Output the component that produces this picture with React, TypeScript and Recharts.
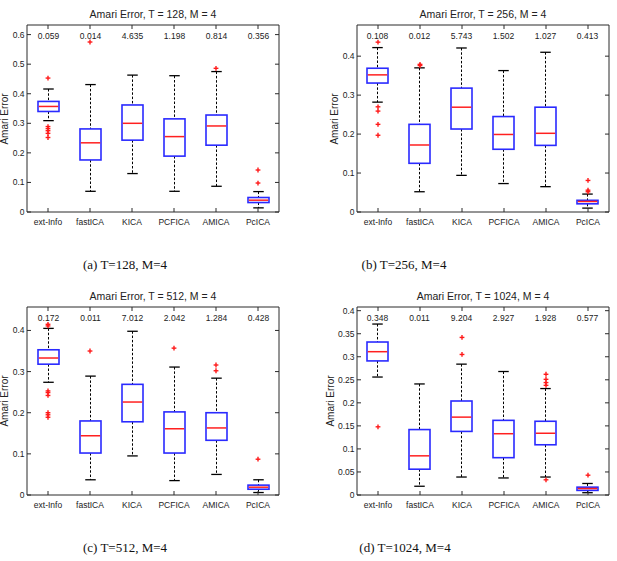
import React from 'react';
import { ComposedChart, Bar, Scatter, XAxis, YAxis } from 'recharts';

// Separation methods compared in every panel
const methods = ['ext-Info', 'fastICA', 'KICA', 'PCFICA', 'AMICA', 'PcICA'];

// T = 128
const low128 = [0.309, 0.07, 0.13, 0.07, 0.087, 0.014];
const q1_128 = [0.34, 0.176, 0.243, 0.189, 0.226, 0.032];
const med128 = [0.357, 0.234, 0.3, 0.255, 0.291, 0.04];
const q3_128 = [0.374, 0.281, 0.362, 0.315, 0.328, 0.049];
const high128 = [0.416, 0.431, 0.463, 0.461, 0.475, 0.069];
const out128 = [[0.453, 0.289, 0.282, 0.275, 0.266, 0.252], [0.575], [], [], [0.486], [0.142, 0.098]];
const score128 = ['0.059', '0.014', '4.635', '1.198', '0.814', '0.356'];

// T = 256
const low256 = [0.282, 0.052, 0.094, 0.073, 0.065, 0.01];
const q1_256 = [0.331, 0.125, 0.213, 0.161, 0.171, 0.021];
const med256 = [0.352, 0.172, 0.269, 0.199, 0.202, 0.027];
const q3_256 = [0.369, 0.225, 0.318, 0.245, 0.269, 0.03];
const high256 = [0.422, 0.37, 0.421, 0.363, 0.41, 0.046];
const out256 = [[0.436, 0.27, 0.259, 0.225, 0.197], [0.379, 0.376], [], [], [], [0.081, 0.056, 0.052]];
const score256 = ['0.108', '0.012', '5.743', '1.502', '1.027', '0.413'];

// T = 512
const low512 = [0.274, 0.037, 0.095, 0.035, 0.05, 0.006];
const q1_512 = [0.318, 0.102, 0.178, 0.102, 0.133, 0.014];
const med512 = [0.333, 0.144, 0.226, 0.161, 0.163, 0.019];
const q3_512 = [0.353, 0.18, 0.269, 0.202, 0.2, 0.024];
const high512 = [0.405, 0.289, 0.398, 0.311, 0.284, 0.037];
const out512 = [[0.415, 0.411, 0.253, 0.249, 0.242, 0.2, 0.195, 0.189], [0.35], [], [0.357], [0.316, 0.302], [0.087]];
const score512 = ['0.172', '0.011', '7.012', '2.042', '1.284', '0.428'];

// T = 1024
const low1024 = [0.256, 0.019, 0.039, 0.037, 0.039, 0.005];
const q1_1024 = [0.291, 0.056, 0.138, 0.081, 0.109, 0.01];
const med1024 = [0.311, 0.085, 0.169, 0.133, 0.134, 0.014];
const q3_1024 = [0.332, 0.142, 0.204, 0.162, 0.16, 0.017];
const high1024 = [0.371, 0.241, 0.284, 0.268, 0.231, 0.025];
const out1024 = [[0.148], [], [0.342, 0.305], [], [0.262, 0.251, 0.244, 0.238, 0.033], [0.043]];
const score1024 = ['0.348', '0.011', '9.204', '2.927', '1.928', '0.577'];

// Axis limits and ticks
const yMaxes = [0.6325, 0.48, 0.457, 0.408];
const ticksTenth6 = [0, 0.1, 0.2, 0.3, 0.4, 0.5, 0.6];
const ticksTenth4 = [0, 0.1, 0.2, 0.3, 0.4];
const ticksTwentieth = [0, 0.05, 0.1, 0.15, 0.2, 0.25, 0.3, 0.35, 0.4];
const sampleSizes = [128, 256, 512, 1024];
const captions = ['(a) T=128, M=4', '(b) T=256, M=4', '(c) T=512, M=4', '(d) T=1024, M=4'];

const SANS = '"Liberation Sans", Arial, Helvetica, sans-serif';
const SERIF = '"Liberation Serif", "Times New Roman", serif';
const AXIS = '#2a2a2a';
const Y_AXIS_W = 27;

type Stats = {
  low: number[]; q1: number[]; med: number[]; q3: number[]; high: number[];
  outliers: number[][]; scores: string[];
};

const stats: Stats[] = [
  { low: low128, q1: q1_128, med: med128, q3: q3_128, high: high128, outliers: out128, scores: score128 },
  { low: low256, q1: q1_256, med: med256, q3: q3_256, high: high256, outliers: out256, scores: score256 },
  { low: low512, q1: q1_512, med: med512, q3: q3_512, high: high512, outliers: out512, scores: score512 },
  { low: low1024, q1: q1_1024, med: med1024, q3: q3_1024, high: high1024, outliers: out1024, scores: score1024 },
];
const yTicks = [ticksTenth6, ticksTenth4, ticksTenth4, ticksTwentieth];

// Panel placement on the page
const layouts = [
  { left: 0, top: 0, width: 300, plotL: 27, plotR: 279, plotT: 25, plotB: 212, yLabelX: 5, capX: 125, capY: 264 },
  { left: 310, top: 0, width: 307, plotL: 357, plotR: 609, plotT: 25, plotB: 212, yLabelX: 335, capX: 404, capY: 264 },
  { left: 0, top: 283, width: 300, plotL: 27, plotR: 279, plotT: 307, plotB: 495, yLabelX: 5, capX: 125, capY: 547 },
  { left: 310, top: 283, width: 307, plotL: 357, plotR: 609, plotT: 307, plotB: 495, yLabelX: 331, capX: 405, capY: 547 },
];

const fmt = (v: number) => (v === 0 ? '0' : String(+v.toFixed(2)));

function BoxGlyph(props: any) {
  const { x, y, width, height, payload, labelY } = props;
  if (x == null || y == null || !payload) return null;
  const top = Math.min(y, y + height);
  const bottom = Math.max(y, y + height);
  const [lo, hi] = payload.range;
  const ppu = (bottom - top) / (hi - lo);
  const py = (v: number) => bottom - (v - lo) * ppu;
  const cx = x + width / 2;
  const cap = width / 4;
  const yq1 = py(payload.q1);
  const yq3 = py(payload.q3);
  const ym = py(payload.med);
  return (
    <g>
      <line x1={cx} x2={cx} y1={top} y2={yq3} stroke="#000" strokeWidth={1} strokeDasharray="2.5 1.8" />
      <line x1={cx} x2={cx} y1={yq1} y2={bottom} stroke="#000" strokeWidth={1} strokeDasharray="2.5 1.8" />
      <line x1={cx - cap} x2={cx + cap} y1={top} y2={top} stroke="#000" strokeWidth={1.3} />
      <line x1={cx - cap} x2={cx + cap} y1={bottom} y2={bottom} stroke="#000" strokeWidth={1.3} />
      <rect x={x} y={yq3} width={width} height={Math.max(0.5, yq1 - yq3)} fill="none" stroke="#2a2aff" strokeWidth={1.6} />
      <line x1={x + 0.8} x2={x + width - 0.8} y1={ym} y2={ym} stroke="#ff2020" strokeWidth={1.5} />
      <text x={cx} y={labelY} textAnchor="middle" dominantBaseline="central" fontSize={8.5} fontFamily={SANS} fill="#222">
        {payload.score}
      </text>
    </g>
  );
}

function PlusMark(props: any) {
  const { cx, cy } = props;
  if (cx == null || cy == null) return null;
  return (
    <g stroke="#ff1a1a" strokeWidth={1.4}>
      <line x1={cx - 2.4} x2={cx + 2.4} y1={cy} y2={cy} />
      <line x1={cx} x2={cx} y1={cy - 2.4} y2={cy + 2.4} />
    </g>
  );
}

const LeftTick = (p: any) => (
  <g>
    <line x1={p.x} x2={p.x + 4} y1={p.y} y2={p.y} stroke={AXIS} />
    <text x={p.x - 2.5} y={p.y} textAnchor="end" dominantBaseline="central" fontSize={8.5} fontFamily={SANS} fill="#222">
      {fmt(p.payload.value)}
    </text>
  </g>
);
const RightTick = (p: any) => <line x1={p.x} x2={p.x - 4} y1={p.y} y2={p.y} stroke={AXIS} />;
const BottomTick = (p: any) => (
  <g>
    <line x1={p.x} x2={p.x} y1={p.y} y2={p.y - 4} stroke={AXIS} />
    <text x={p.x} y={p.y + 10} textAnchor="middle" dominantBaseline="central" fontSize={8.5} fontFamily={SANS} fill="#222">
      {methods[p.payload.value - 1]}
    </text>
  </g>
);
const TopTick = (p: any) => <line x1={p.x} x2={p.x} y1={p.y} y2={p.y + 4} stroke={AXIS} />;

function Panel({ idx }: { idx: number }) {
  const s = stats[idx];
  const L = layouts[idx];
  const H = L.plotB - L.top + 22;
  const margin = {
    left: L.plotL - L.left - Y_AXIS_W,
    right: L.left + L.width - L.plotR - 1,
    top: L.plotT - L.top - 1,
    bottom: H - (L.plotB - L.top) - 20,
  };
  const rows = methods.map((name, i) => ({
    pos: i + 1,
    name,
    range: [s.low[i], s.high[i]],
    q1: s.q1[i],
    med: s.med[i],
    q3: s.q3[i],
    score: s.scores[i],
  }));
  const outliers = s.outliers.flatMap((vals, i) => vals.map((val) => ({ pos: i + 1, val })));
  const labelY = L.plotT - L.top + 10.5;
  const positions = methods.map((_, i) => i + 1);
  const domainX: [number, number] = [0.5, 6.5];
  const domainY: [number, number] = [0, yMaxes[idx]];
  const plotCx = (L.plotL + L.plotR) / 2;
  const plotCy = (L.plotT + L.plotB) / 2;

  return (
    <>
      <div style={{ position: 'absolute', left: L.left, top: L.top }}>
        <ComposedChart width={L.width} height={H} data={rows} margin={margin}>
          <XAxis
            xAxisId={0}
            dataKey="pos"
            type="number"
            domain={domainX}
            ticks={positions}
            interval={0}
            allowDataOverflow
            height={20}
            tickSize={0}
            tickMargin={0}
            tick={<BottomTick />}
            axisLine={{ stroke: AXIS, strokeWidth: 1 }}
          />
          <XAxis
            xAxisId="top"
            orientation="top"
            dataKey="pos"
            type="number"
            domain={domainX}
            ticks={positions}
            interval={0}
            allowDataOverflow
            height={1}
            tickSize={0}
            tickMargin={0}
            tick={<TopTick />}
            axisLine={{ stroke: AXIS, strokeWidth: 1 }}
          />
          <YAxis
            yAxisId={0}
            type="number"
            domain={domainY}
            ticks={yTicks[idx]}
            interval={0}
            allowDataOverflow
            width={Y_AXIS_W}
            tickSize={0}
            tickMargin={0}
            tick={<LeftTick />}
            axisLine={{ stroke: AXIS, strokeWidth: 1 }}
          />
          <YAxis
            yAxisId="right"
            orientation="right"
            type="number"
            domain={domainY}
            ticks={yTicks[idx]}
            interval={0}
            allowDataOverflow
            width={1}
            tickSize={0}
            tickMargin={0}
            tick={<RightTick />}
            axisLine={{ stroke: AXIS, strokeWidth: 1 }}
          />
          <Bar
            dataKey="range"
            xAxisId={0}
            yAxisId={0}
            barSize={21}
            isAnimationActive={false}
            shape={(p: any) => <BoxGlyph {...p} labelY={labelY} />}
          />
          <Scatter
            data={outliers}
            dataKey="val"
            xAxisId={0}
            yAxisId={0}
            isAnimationActive={false}
            shape={<PlusMark />}
          />
        </ComposedChart>
      </div>
      <div
        style={{
          position: 'absolute', left: plotCx, top: L.plotT - 11, transform: 'translate(-50%, -50%)',
          whiteSpace: 'nowrap', fontFamily: SANS, fontSize: 10.5, color: '#222', lineHeight: 1,
        }}
      >
        {`Amari Error, T = ${sampleSizes[idx]}, M = 4`}
      </div>
      <div
        style={{
          position: 'absolute', left: L.yLabelX, top: plotCy, transform: 'translate(-50%, -50%) rotate(-90deg)',
          whiteSpace: 'nowrap', fontFamily: SANS, fontSize: 10, color: '#222', lineHeight: 1,
        }}
      >
        Amari Error
      </div>
      <div
        style={{
          position: 'absolute', left: L.capX, top: L.capY, transform: 'translate(-50%, -50%)',
          whiteSpace: 'nowrap', fontFamily: SERIF, fontSize: 13, color: '#111', lineHeight: 1,
        }}
      >
        {captions[idx]}
      </div>
    </>
  );
}

export default function App() {
  return (
    <div style={{ position: 'absolute', left: 0, top: 0, width: 617, height: 561, background: '#fff', overflow: 'hidden' }}>
      {[0, 1, 2, 3].map((i) => (
        <Panel key={i} idx={i} />
      ))}
    </div>
  );
}
